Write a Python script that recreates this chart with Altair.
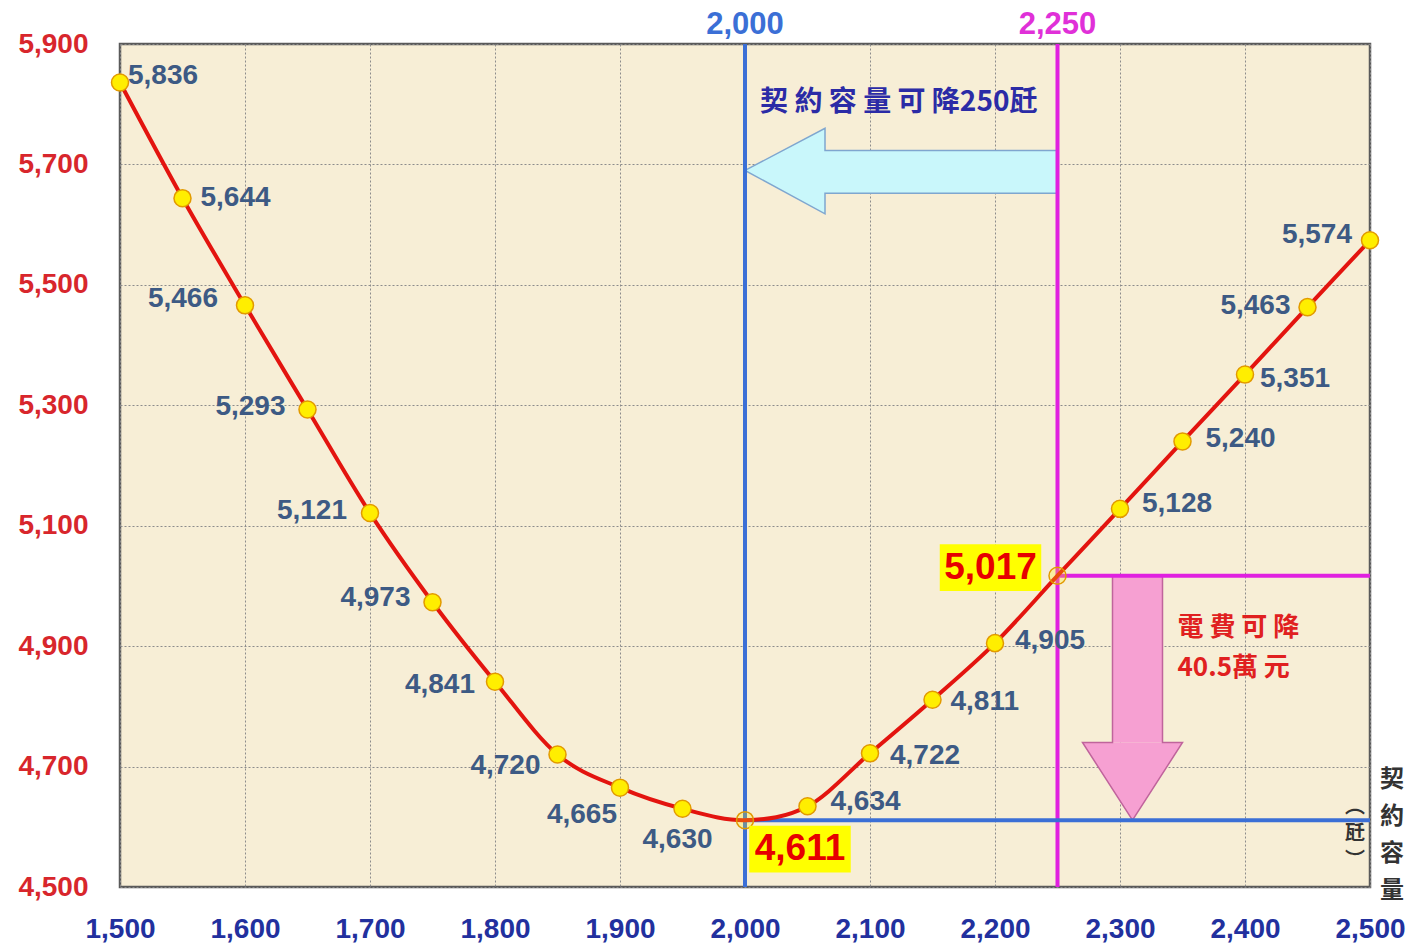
import altair as alt
import pandas as pd

# Contract capacity (kW) and the resulting annual electricity cost
capacity = [1500, 1550, 1600, 1650, 1700, 1750, 1800, 1850, 1900, 1950, 2000,
            2050, 2100, 2150, 2200, 2250, 2300, 2350, 2400, 2450, 2500]
cost = [5836, 5644, 5466, 5293, 5121, 4973, 4841, 4720, 4665, 4630, 4611,
        4634, 4722, 4811, 4905, 5017, 5128, 5240, 5351, 5463, 5574]

x_ticks = [1500, 1600, 1700, 1800, 1900, 2000, 2100, 2200, 2300, 2400, 2500]
y_ticks = [4500, 4700, 4900, 5100, 5300, 5500, 5700, 5900]

optimal_cap = 2000     # suggested contract capacity
current_cap = 2250     # present contract capacity
optimal_cost = 4611
current_cost = 5017

# Label placement for each point: (align, dx, dy); None = highlighted value
label_place = [
    ("left", 8, -7), ("left", 18, 0), ("right", -27, -6), ("right", -22, -3),
    ("right", -23, -2), ("right", -22, -4), ("right", -20, 3), ("right", -17, 11),
    ("right", -3, 27), ("center", -5, 31), None, ("left", 23, -4),
    ("left", 20, 3), ("left", 18, 2), ("left", 20, -2), None,
    ("left", 22, -5), ("left", 23, -2), ("left", 15, 4), ("right", -17, -1),
    ("right", -18, -5),
]

# Arrow outlines in data space (capacity, cost)
left_arrow = [(2250, 5723), (2064, 5723), (2064, 5760), (2000, 5690),
              (2064, 5618), (2064, 5652), (2250, 5652)]
down_arrow = [(2294, 5017), (2294, 4740), (2270, 4740), (2310, 4611),
              (2350, 4740), (2334, 4740), (2334, 5017)]

NUM_FONT = "Liberation Sans"
CJK_FONT = "Noto Sans CJK TC"
THOUSANDS = "format(datum.value, ',')"

df = pd.DataFrame({"cap": capacity, "cost": cost})

xs = alt.Scale(domain=[1500, 2500], nice=False, zero=False)
ys = alt.Scale(domain=[4500, 5900], nice=False, zero=False)

x_axis = alt.Axis(
    values=x_ticks, labelExpr=THOUSANDS, title=None, ticks=False, domain=False,
    labelColor="#22309e", labelFont=NUM_FONT, labelFontWeight="bold",
    labelFontSize=28, labelPadding=28, labelFlush=False,
    grid=True, gridColor="#8c8c8c", gridDash=[2, 2], gridWidth=1)
y_axis = alt.Axis(
    values=y_ticks, labelExpr=THOUSANDS, title=None, ticks=False, domain=False,
    labelColor="#d8262c", labelFont=NUM_FONT, labelFontWeight="bold",
    labelFontSize=28, labelPadding=32, labelFlush=False,
    grid=True, gridColor="#8c8c8c", gridDash=[2, 2], gridWidth=1)


def X(f="cap"):
    return alt.X(f"{f}:Q", scale=xs, axis=x_axis)


def Y(f="cost"):
    return alt.Y(f"{f}:Q", scale=ys, axis=y_axis)


# Left (cyan) arrow: shaft + head + outline
la = pd.DataFrame({"cap": [p[0] for p in left_arrow],
                   "cost": [p[1] for p in left_arrow],
                   "i": list(range(len(left_arrow)))})
la_shaft = alt.Chart(pd.DataFrame({
    "x1": [left_arrow[1][0]], "x2": [left_arrow[0][0]],
    "y1": [left_arrow[6][1]], "y2": [left_arrow[0][1]]})).mark_rect(
    color="#c9f7fb").encode(x=X("x1"), x2="x2:Q", y=Y("y1"), y2="y2:Q")
la_head = alt.Chart(pd.DataFrame({
    "cap": [left_arrow[3][0], left_arrow[2][0]],
    "lo": [left_arrow[3][1], left_arrow[4][1]],
    "hi": [left_arrow[3][1], left_arrow[2][1]]})).mark_area(
    color="#c9f7fb", opacity=1).encode(x=X(), y=Y("lo"), y2="hi:Q")
la_line = alt.Chart(la).mark_line(color="#7fa6cf", strokeWidth=1.5).encode(
    x=X(), y=Y(), order="i:Q")

# Down (pink) arrow: shaft + head + outline
da = pd.DataFrame({"cap": [p[0] for p in down_arrow],
                   "cost": [p[1] for p in down_arrow],
                   "i": list(range(len(down_arrow)))})
da_shaft = alt.Chart(pd.DataFrame({
    "x1": [down_arrow[0][0]], "x2": [down_arrow[6][0]],
    "y1": [down_arrow[1][1]], "y2": [down_arrow[0][1]]})).mark_rect(
    color="#f6a0d2").encode(x=X("x1"), x2="x2:Q", y=Y("y1"), y2="y2:Q")
da_head = alt.Chart(pd.DataFrame({
    "cap": [down_arrow[2][0], down_arrow[3][0], down_arrow[4][0]],
    "lo": [down_arrow[2][1], down_arrow[3][1], down_arrow[4][1]],
    "hi": [down_arrow[2][1], down_arrow[2][1], down_arrow[4][1]]})).mark_area(
    color="#f6a0d2", opacity=1).encode(x=X(), y=Y("lo"), y2="hi:Q")
da_line = alt.Chart(da).mark_line(color="#c0649c", strokeWidth=1.5).encode(
    x=X(), y=Y(), order="i:Q")

# Reference rules
v_rules = alt.Chart(pd.DataFrame({
    "cap": [optimal_cap, current_cap], "lo": [4500, 4500], "hi": [5900, 5900],
    "c": ["#3b6fd6", "#e020e0"]})).mark_rule(strokeWidth=4).encode(
    x=X(), y=Y("lo"), y2="hi:Q", color=alt.Color("c:N", scale=None))
h_rules = alt.Chart(pd.DataFrame({
    "cap": [optimal_cap, current_cap], "cap2": [2500, 2500],
    "cost": [optimal_cost, current_cost],
    "c": ["#3b6fd6", "#e020e0"]})).mark_rule(strokeWidth=4).encode(
    x=X(), x2="cap2:Q", y=Y(), color=alt.Color("c:N", scale=None))

# Cost curve and markers
curve = alt.Chart(df).mark_line(color="#e3140f", strokeWidth=4,
                                interpolate="cardinal").encode(x=X(), y=Y())
points = alt.Chart(df).mark_circle(
    size=290, color="#ffee00", stroke="#e29a00", strokeWidth=1.5, opacity=1
).encode(
    x=X(), y=Y(),
    fillOpacity=alt.condition(
        (alt.datum.cap == optimal_cap) | (alt.datum.cap == current_cap),
        alt.value(0.25), alt.value(1)),
)

# Value labels
label_layers = []
for c, v, place in zip(capacity, cost, label_place):
    if place is None:
        continue
    align, dx, dy = place
    label_layers.append(
        alt.Chart(pd.DataFrame({"cap": [c], "cost": [v]})).mark_text(
            align=align, baseline="middle", dx=dx, dy=dy, font=NUM_FONT,
            fontWeight="bold", fontSize=28, color="#3d5a84"
        ).encode(x=X(), y=Y(), text=alt.Text("cost:Q", format=","))
    )

BOX = "M-1,-0.46L1,-0.46L1,0.46L-1,0.46Z"
hl_layers = []
for c, v, ox, oy in [(optimal_cap, optimal_cost, 55, 29),
                     (current_cap, current_cost, -67, -8)]:
    d = pd.DataFrame({"cap": [c], "cost": [v]})
    hl_layers.append(alt.Chart(d).mark_point(
        shape=BOX, filled=True, size=10300, color="#ffff00", opacity=1,
        xOffset=ox, yOffset=oy).encode(x=X(), y=Y()))
    hl_layers.append(alt.Chart(d).mark_text(
        align="center", baseline="middle", dx=ox, dy=oy, font=NUM_FONT,
        fontWeight="bold", fontSize=37, color="#e60000"
    ).encode(x=X(), y=Y(), text=alt.Text("cost:Q", format=",")))

# Capacities marked above the plot
top_labels = alt.Chart(pd.DataFrame({
    "cap": [optimal_cap, current_cap], "cost": [5900, 5900],
    "c": ["#3b6fd6", "#e030d8"]})).mark_text(
    baseline="middle", dy=-19, font=NUM_FONT, fontWeight="bold", fontSize=31
).encode(x=X(), y=Y(), text=alt.Text("cap:Q", format=","),
         color=alt.Color("c:N", scale=None))

# Annotation texts
reduce_cap = alt.Chart(pd.DataFrame({"cap": [2123], "cost": [5802]})).mark_text(
    text="契 約 容 量 可 降250瓩", font=CJK_FONT, fontWeight="bold",
    fontSize=28, color="#2b2ba6", align="center", baseline="middle"
).encode(x=X(), y=Y())

saving = alt.Chart(pd.DataFrame({"cap": [2346], "cost": [4930]})).mark_text(
    text=["電 費 可 降", "40.5萬 元"], lineHeight=40, font=CJK_FONT,
    fontWeight="bold", fontSize=26, color="#e02020", align="left",
    baseline="middle"
).encode(x=X(), y=Y())

axis_title = alt.Chart(pd.DataFrame({"cap": [2500], "cost": [4500]})).mark_text(
    text=["契", "約", "容", "量"], lineHeight=37, font=CJK_FONT,
    fontWeight="bold", fontSize=24, color="#333333", align="center",
    baseline="top", dx=22, dy=-119
).encode(x=X(), y=Y())
axis_unit = alt.Chart(pd.DataFrame({"cap": [2500], "cost": [4500]})).mark_text(
    text=["︵", "瓩", "︶"], lineHeight=27, font=CJK_FONT,
    fontWeight="bold", fontSize=20, color="#333333", align="center",
    baseline="top", dx=-15, dy=-90
).encode(x=X(), y=Y())

chart = alt.layer(
    la_shaft, la_head, la_line, da_shaft, da_head, da_line,
    v_rules, h_rules, curve, points, *hl_layers, *label_layers,
    top_labels, reduce_cap, saving, axis_title, axis_unit,
).properties(
    width=1250, height=843,
    autosize=alt.AutoSizeParams(type="none"),
    padding={"left": 120, "top": 44, "right": 36, "bottom": 57},
    background="white",
).configure_view(
    fill="#f7eed6", stroke="#5a5a5a", strokeWidth=2.5,
)

chart.save("out.html", embed_options={"renderer": "svg", "actions": False})
